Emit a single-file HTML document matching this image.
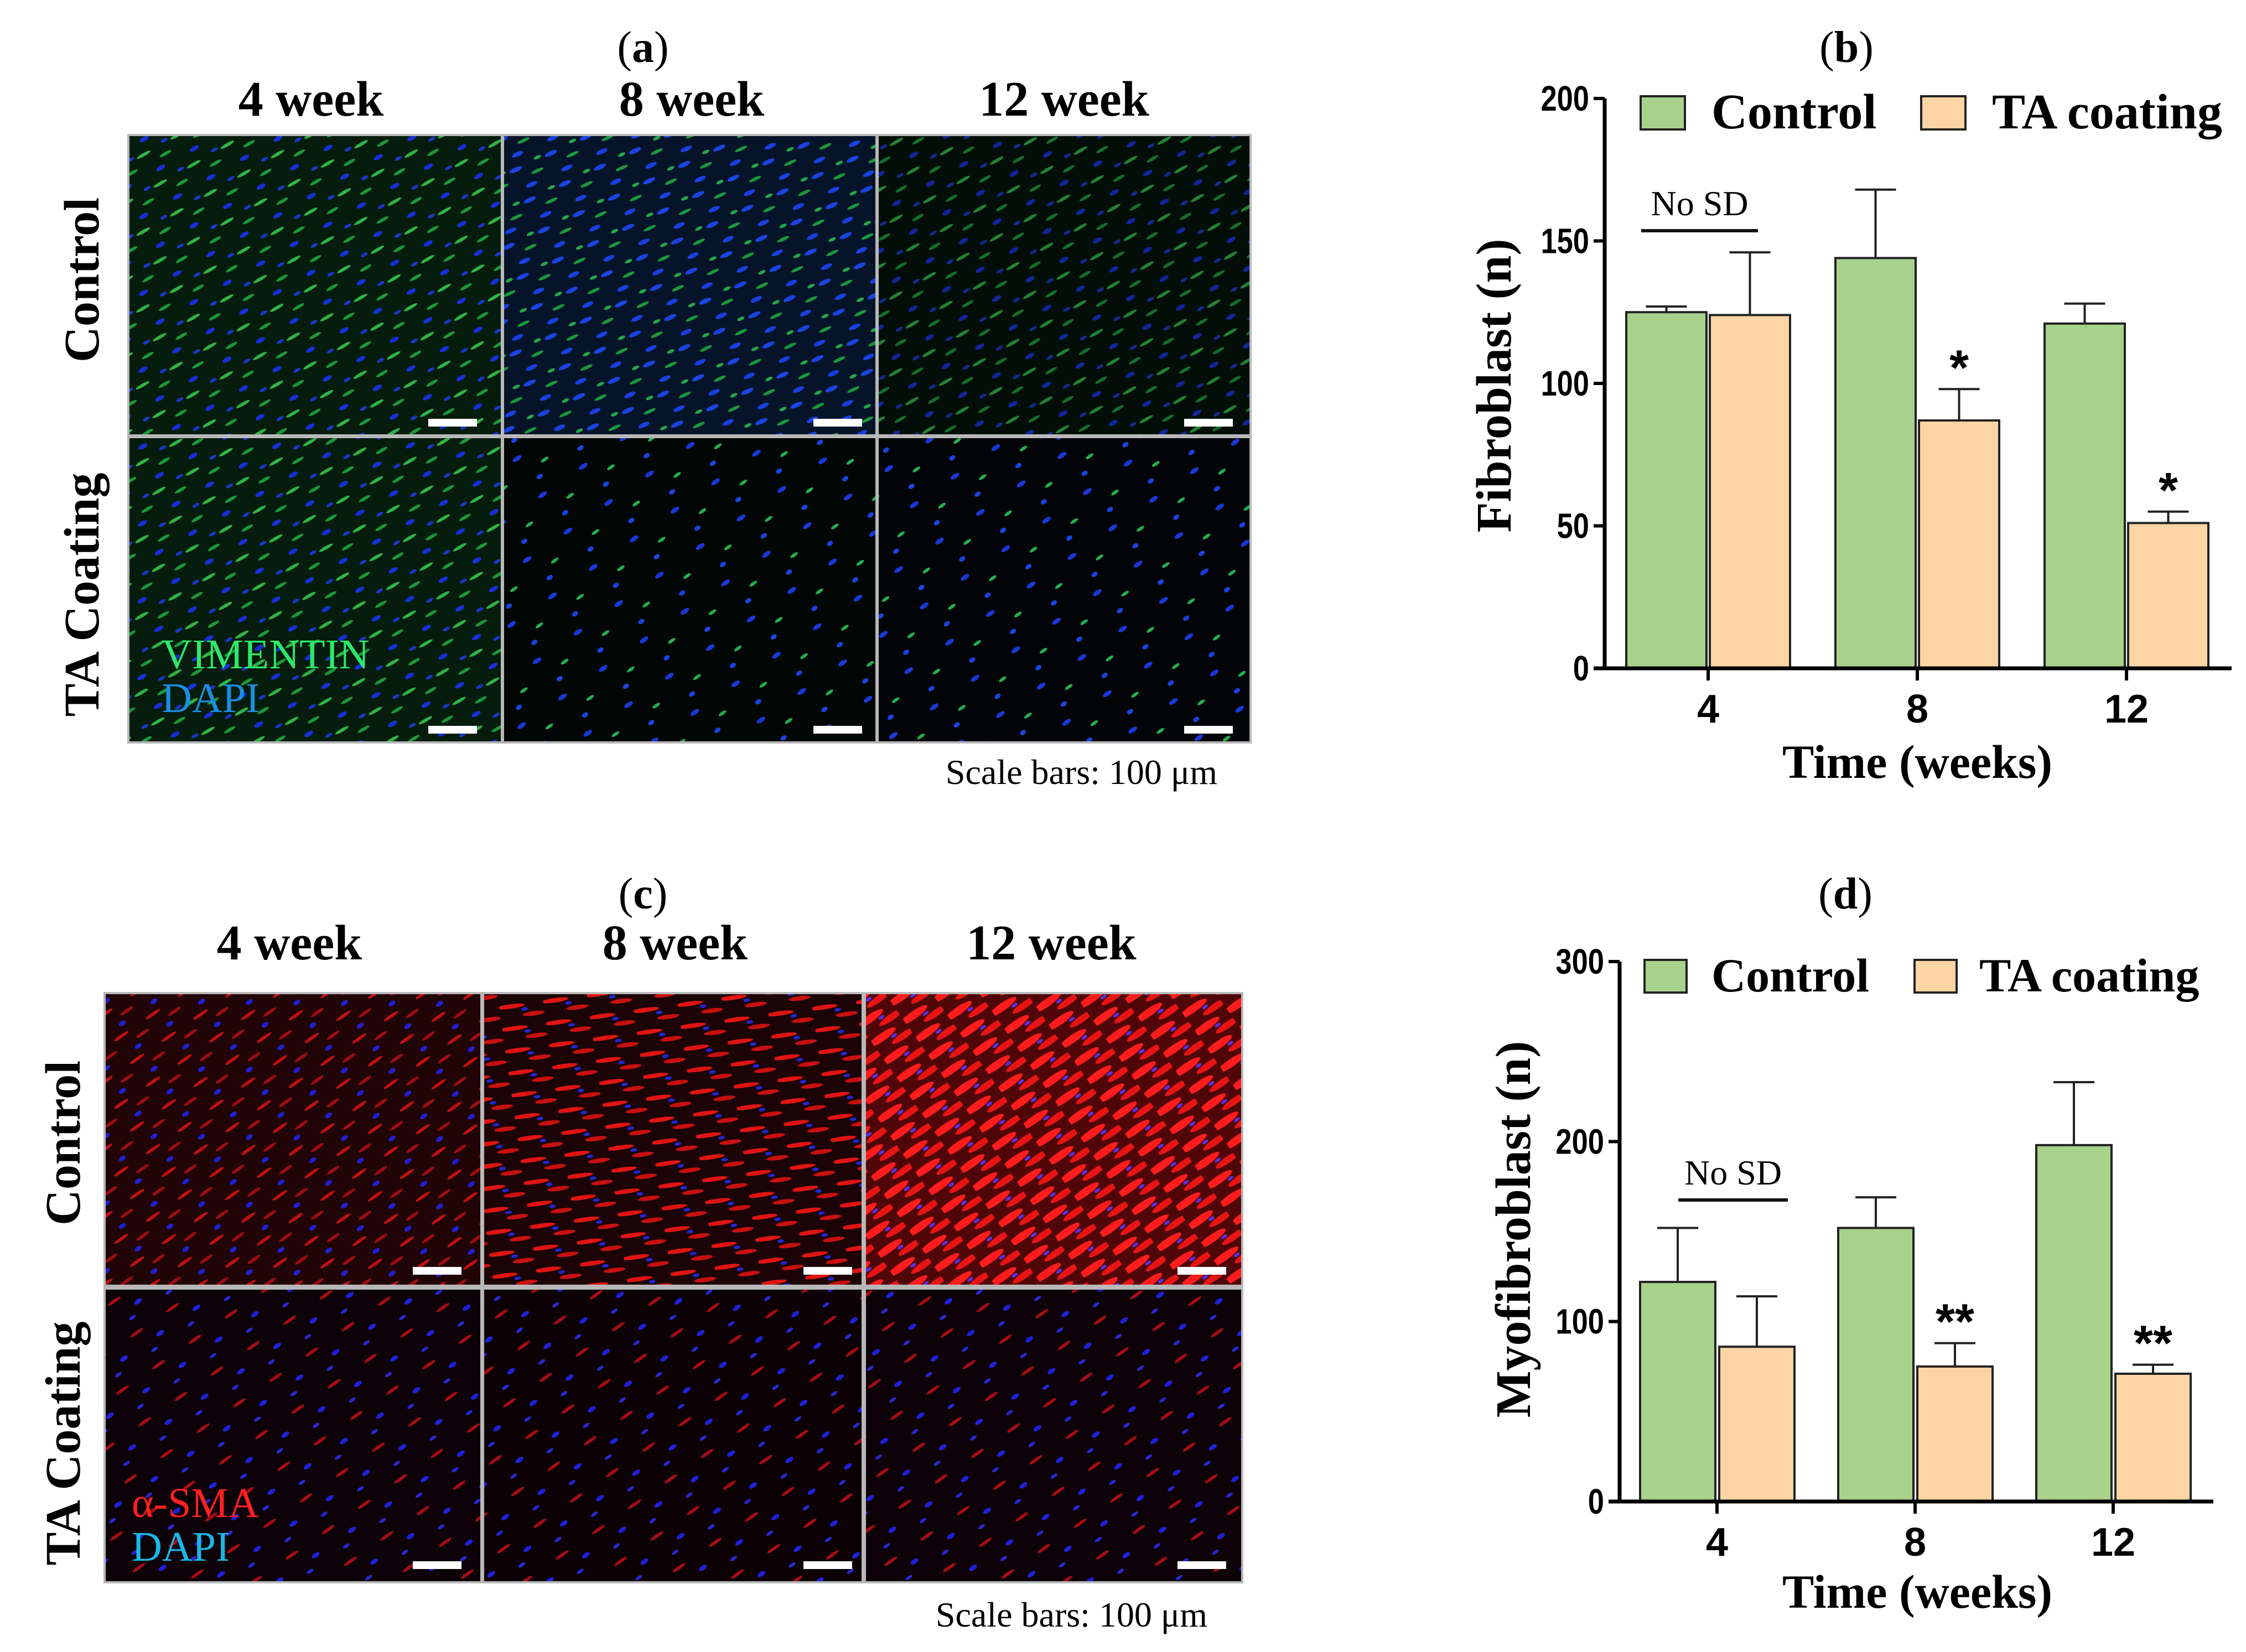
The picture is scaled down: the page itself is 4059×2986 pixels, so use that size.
<!DOCTYPE html>
<html><head><meta charset="utf-8">
<style>
html,body{margin:0;padding:0;background:#fff;}
svg{display:block;}
.serif{font-family:"Liberation Serif",serif;}
.sans{font-family:"Liberation Sans",sans-serif;}
</style></head>
<body>
<svg id="fig" width="4059" height="2986" viewBox="0 0 4059 2986" xmlns="http://www.w3.org/2000/svg">
<defs>
  <pattern id="pGreen" width="70" height="60" patternUnits="userSpaceOnUse" patternTransform="rotate(-30)">
    <ellipse cx="15" cy="12" rx="14" ry="3" fill="#2fb548"/>
    <ellipse cx="50" cy="30" rx="12" ry="3" fill="#1a9a3a"/>
    <ellipse cx="30" cy="48" rx="9" ry="4" fill="#1530d8"/>
    <ellipse cx="60" cy="8" rx="7" ry="3" fill="#1838c8"/>
  </pattern>
  <pattern id="pGreenBlue" width="70" height="60" patternUnits="userSpaceOnUse" patternTransform="rotate(-25)">
    <ellipse cx="15" cy="12" rx="12" ry="4" fill="#1a44e0"/>
    <ellipse cx="50" cy="30" rx="12" ry="3" fill="#1a9a3a"/>
    <ellipse cx="30" cy="48" rx="11" ry="4" fill="#1840e0"/>
    <ellipse cx="60" cy="8" rx="7" ry="3" fill="#24a84a"/>
  </pattern>
  <pattern id="pSparse" width="90" height="80" patternUnits="userSpaceOnUse" patternTransform="rotate(-35)">
    <ellipse cx="20" cy="15" rx="9" ry="4" fill="#1838d8"/>
    <ellipse cx="60" cy="45" rx="8" ry="3" fill="#22b050"/>
    <ellipse cx="35" cy="65" rx="6" ry="4" fill="#1a44e0"/>
  </pattern>
  <pattern id="pRed" width="70" height="50" patternUnits="userSpaceOnUse" patternTransform="rotate(-35)">
    <ellipse cx="15" cy="10" rx="16" ry="3" fill="#c01010"/>
    <ellipse cx="50" cy="28" rx="14" ry="3" fill="#a00c10"/>
    <ellipse cx="30" cy="42" rx="7" ry="4" fill="#2020d0"/>
  </pattern>
  <pattern id="pRedDense" width="70" height="40" patternUnits="userSpaceOnUse" patternTransform="rotate(-35)">
    <ellipse cx="20" cy="10" rx="30" ry="7" fill="#ff1c1c"/>
    <ellipse cx="55" cy="30" rx="26" ry="6" fill="#e81414"/>
    <ellipse cx="40" cy="20" rx="6" ry="3" fill="#5a30e0"/>
  </pattern>
  <pattern id="pRedHoriz" width="80" height="40" patternUnits="userSpaceOnUse" patternTransform="rotate(-8)">
    <ellipse cx="20" cy="10" rx="26" ry="4" fill="#e01414"/>
    <ellipse cx="60" cy="28" rx="20" ry="4" fill="#c81010"/>
    <ellipse cx="45" cy="18" rx="6" ry="3" fill="#2424d8"/>
  </pattern>
  <pattern id="pRedSparse" width="80" height="70" patternUnits="userSpaceOnUse" patternTransform="rotate(-35)">
    <ellipse cx="20" cy="15" rx="14" ry="3" fill="#a80c14"/>
    <ellipse cx="55" cy="40" rx="8" ry="4" fill="#2020d8"/>
    <ellipse cx="30" cy="58" rx="7" ry="3" fill="#2828d0"/>
  </pattern>
</defs>

<!-- Panel (a) -->
<g>
  <text class="serif" x="1162" y="112" font-size="80" text-anchor="middle">(<tspan font-weight="bold">a</tspan>)</text>
  <text class="serif" x="562" y="209" font-size="90" font-weight="bold" text-anchor="middle">4 week</text>
  <text class="serif" x="1250" y="209" font-size="90" font-weight="bold" text-anchor="middle">8 week</text>
  <text class="serif" x="1923" y="209" font-size="90" font-weight="bold" text-anchor="middle">12 week</text>
  <text class="serif" transform="translate(178,506) rotate(-90)" font-size="90" font-weight="bold" text-anchor="middle">Control</text>
  <text class="serif" transform="translate(178,1075) rotate(-90)" font-size="90" font-weight="bold" text-anchor="middle">TA Coating</text>
  <rect x="230" y="242" width="2032" height="1102" fill="#b8b8b8"/>
  <g><rect x="234" y="246" width="671" height="539" fill="#061c0c"/><rect x="234" y="246" width="671" height="539" fill="url(#pGreen)"/></g>
  <g><rect x="911" y="246" width="671" height="539" fill="#06142a"/><rect x="911" y="246" width="671" height="539" fill="url(#pGreenBlue)"/></g>
  <g><rect x="1588" y="246" width="670" height="539" fill="#040e08"/><rect x="1588" y="246" width="670" height="539" fill="url(#pGreen)" opacity="0.7"/></g>
  <g><rect x="234" y="792" width="671" height="548" fill="#061c0c"/><rect x="234" y="792" width="671" height="548" fill="url(#pGreen)"/></g>
  <g><rect x="911" y="792" width="671" height="548" fill="#020604"/><rect x="911" y="792" width="671" height="548" fill="url(#pSparse)"/></g>
  <g><rect x="1588" y="792" width="670" height="548" fill="#020408"/><rect x="1588" y="792" width="670" height="548" fill="url(#pSparse)"/></g>
  <g fill="#fff">
    <rect x="774" y="757" width="88" height="14"/><rect x="1470" y="757" width="88" height="14"/><rect x="2140" y="757" width="88" height="14"/>
    <rect x="774" y="1312" width="88" height="14"/><rect x="1470" y="1312" width="88" height="14"/><rect x="2140" y="1312" width="88" height="14"/>
  </g>
  <text class="serif" x="292" y="1208" font-size="76" fill="#2ee86a">VIMENTIN</text>
  <text class="serif" x="292" y="1287" font-size="76" fill="#1a8fe0">DAPI</text>
  <text class="serif" x="2200" y="1417" font-size="64" text-anchor="end">Scale bars: 100 μm</text>
</g>

<!-- Panel (c) -->
<g>
  <text class="serif" x="1162" y="1642" font-size="80" text-anchor="middle">(<tspan font-weight="bold">c</tspan>)</text>
  <text class="serif" x="523" y="1734" font-size="90" font-weight="bold" text-anchor="middle">4 week</text>
  <text class="serif" x="1220" y="1734" font-size="90" font-weight="bold" text-anchor="middle">8 week</text>
  <text class="serif" x="1900" y="1734" font-size="90" font-weight="bold" text-anchor="middle">12 week</text>
  <text class="serif" transform="translate(144,2066) rotate(-90)" font-size="90" font-weight="bold" text-anchor="middle">Control</text>
  <text class="serif" transform="translate(144,2609) rotate(-90)" font-size="90" font-weight="bold" text-anchor="middle">TA Coating</text>
  <rect x="187" y="1793" width="2060" height="1069" fill="#b8b8b8"/>
  <g><rect x="191" y="1797" width="677" height="525" fill="#200406"/><rect x="191" y="1797" width="677" height="525" fill="url(#pRed)"/></g>
  <g><rect x="875" y="1797" width="682" height="525" fill="#1c0306"/><rect x="875" y="1797" width="682" height="525" fill="url(#pRedHoriz)"/></g>
  <g><rect x="1565" y="1797" width="678" height="525" fill="#500608"/><rect x="1565" y="1797" width="678" height="525" fill="url(#pRedDense)"/></g>
  <g><rect x="191" y="2331" width="677" height="527" fill="#0c0208"/><rect x="191" y="2331" width="677" height="527" fill="url(#pRedSparse)"/></g>
  <g><rect x="875" y="2331" width="682" height="527" fill="#0c0206"/><rect x="875" y="2331" width="682" height="527" fill="url(#pRedSparse)"/></g>
  <g><rect x="1565" y="2331" width="678" height="527" fill="#0c0208"/><rect x="1565" y="2331" width="678" height="527" fill="url(#pRedSparse)"/></g>
  <g fill="#fff">
    <rect x="746" y="2290" width="88" height="14"/><rect x="1452" y="2290" width="88" height="14"/><rect x="2128" y="2290" width="88" height="14"/>
    <rect x="746" y="2822" width="88" height="14"/><rect x="1452" y="2822" width="88" height="14"/><rect x="2128" y="2822" width="88" height="14"/>
  </g>
  <text class="serif" x="238" y="2742" font-size="76" fill="#ff2020">α-SMA</text>
  <text class="serif" x="238" y="2821" font-size="76" fill="#18b8e8">DAPI</text>
  <text class="serif" x="2182" y="2940" font-size="64" text-anchor="end">Scale bars: 100 μm</text>
</g>

<g id="chartB"></g>
<g id="chartD"></g>
</svg>

<script>
const weekLabels = ['4','8','12'];
const fibroControl = [125, 144, 121];
const fibroControlSD = [2, 24, 7];
const fibroTA = [124, 87, 51];
const fibroTASD = [22, 11, 4];
const fibroStars = ['', '*', '*'];
const fibroTicks = [0, 50, 100, 150, 200];
const myoControl = [122, 152, 198];
const myoControlSD = [30, 17, 35];
const myoTA = [86, 75, 71];
const myoTASD = [28, 13, 5];
const myoStars = ['', '**', '**'];
const myoTicks = [0, 100, 200, 300];

const NS = 'http://www.w3.org/2000/svg';
function mk(parent, tag, attrs, text) {
  const e = document.createElementNS(NS, tag);
  for (const k in attrs) e.setAttribute(k, attrs[k]);
  if (text !== undefined) e.textContent = text;
  parent.appendChild(e);
  return e;
}

function drawChart(g, cfg) {
  const yS = v => cfg.yBot - (v / cfg.yMax) * (cfg.yBot - cfg.yTop);
  const xS = i => cfg.c0 + i * cfg.step;

  const lab = mk(g, 'text', {x: cfg.labelX, y: cfg.labelY, 'font-size': 80, 'text-anchor': 'middle', 'font-family': 'Liberation Serif, serif'});
  
  
  lab.innerHTML = '(<tspan font-weight="bold">' + cfg.letter + '</tspan>)';

  const series = [
    {vals: cfg.ctrl, sd: cfg.ctrlSD, fill: '#a8d18c', off: -cfg.bw - cfg.gapL, name: 'control'},
    {vals: cfg.ta, sd: cfg.taSD, fill: '#fdd5a5', off: cfg.gapR, name: 'ta-coating'}
  ];
  series.forEach(s => {
    s.vals.forEach((v, i) => {
      const x = xS(i) + s.off;
      const top = yS(v);
      const cx = x + cfg.bw / 2;
      const eTop = yS(v + s.sd[i]);
      const el = mk(g, 'line', {x1: cx, x2: cx, y1: top, y2: eTop, stroke: '#222', 'stroke-width': 4});
      
      
      const cap = mk(g, 'line', {x1: cx - 37, x2: cx + 37, y1: eTop, y2: eTop, stroke: '#222', 'stroke-width': 4});
      
      
      const r = mk(g, 'rect', {x: x, y: top, width: cfg.bw, height: cfg.yBot - top, fill: s.fill, stroke: '#222', 'stroke-width': 4});
      
      
    });
  });

  cfg.stars.forEach((st, i) => {
    if (!st) return;
    const cx = xS(i) + cfg.gapR + cfg.bw / 2;
    const y = yS(cfg.ta[i] + cfg.taSD[i]);
    const t = mk(g, 'text', {x: cx, y: y - 8 + cfg.starDy, 'font-size': 90, 'font-weight': 'bold', 'text-anchor': 'middle', 'font-family': 'Liberation Sans, sans-serif'}, st);
    
    
  });

  const nl = mk(g, 'line', {x1: cfg.noSD.x1, x2: cfg.noSD.x2, y1: cfg.noSD.y, y2: cfg.noSD.y, stroke: '#111', 'stroke-width': 6});
  
  
  const nt = mk(g, 'text', {x: (cfg.noSD.x1 + cfg.noSD.x2) / 2, y: cfg.noSD.y - 28, 'font-size': 64, 'text-anchor': 'middle', 'font-family': 'Liberation Serif, serif'}, 'No SD');
  
  

  const ya = mk(g, 'line', {x1: cfg.x0, x2: cfg.x0, y1: cfg.yTop, y2: cfg.yBot + 3, stroke: '#000', 'stroke-width': 7});
  
  
  const xa = mk(g, 'line', {x1: cfg.x0 - 20, x2: cfg.xEnd, y1: cfg.yBot, y2: cfg.yBot, stroke: '#000', 'stroke-width': 7});
  
  
  cfg.ticks.forEach(v => {
    const y = yS(v);
    const tl = mk(g, 'line', {x1: cfg.x0 - 20, x2: cfg.x0, y1: y, y2: y, stroke: '#000', 'stroke-width': 6});
    
    
    const tx = cfg.x0 - 28;
    const tt = mk(g, 'text', {x: tx, y: y + 22, 'font-size': 64, 'font-weight': 'bold', 'text-anchor': 'end', 'font-family': 'Liberation Sans, sans-serif', transform: 'translate(' + tx + ',0) scale(0.82,1) translate(' + (-tx) + ',0)'}, String(v));
    
    
  });
  weekLabels.forEach((w, i) => {
    const x = xS(i);
    const tl = mk(g, 'line', {x1: x, x2: x, y1: cfg.yBot, y2: cfg.yBot + 22, stroke: '#000', 'stroke-width': 6});
    
    
    const tt = mk(g, 'text', {x: x, y: cfg.yBot + 98, 'font-size': 72, 'font-weight': 'bold', 'text-anchor': 'middle', 'font-family': 'Liberation Sans, sans-serif'}, w);
    
    
  });

  const xt = mk(g, 'text', {x: cfg.xTitleX, y: cfg.yBot + cfg.xTitleDy, 'font-size': 86, 'font-weight': 'bold', 'text-anchor': 'middle', 'font-family': 'Liberation Serif, serif', 'xml:space': 'preserve'}, 'Time  (weeks)');
  
  
  const yt = mk(g, 'text', {transform: 'translate(' + cfg.yTitleX + ',' + cfg.yTitleY + ') rotate(-90)', 'font-size': 90, 'font-weight': 'bold', 'text-anchor': 'middle', 'font-family': 'Liberation Serif, serif'}, cfg.yTitle);
  
  

  const l1 = mk(g, 'rect', {x: cfg.leg.b1x, y: cfg.leg.y, width: cfg.leg.w, height: cfg.leg.h, fill: '#a8d18c', stroke: '#222', 'stroke-width': 4});
  
  
  const t1 = mk(g, 'text', {x: cfg.leg.t1x, y: cfg.leg.y + cfg.leg.h - 2, 'font-size': cfg.leg.fs, 'font-weight': 'bold', 'font-family': 'Liberation Serif, serif'}, 'Control');
  
  
  const l2 = mk(g, 'rect', {x: cfg.leg.b2x, y: cfg.leg.y, width: cfg.leg.w, height: cfg.leg.h, fill: '#fdd5a5', stroke: '#222', 'stroke-width': 4});
  
  
  const t2 = mk(g, 'text', {x: cfg.leg.t2x, y: cfg.leg.y + cfg.leg.h - 2, 'font-size': cfg.leg.fs, 'font-weight': 'bold', 'font-family': 'Liberation Serif, serif'}, 'TA coating');
  
  
}

drawChart(document.getElementById('chartB'), {
  letter: 'b', labelX: 3337, labelY: 112,
  x0: 2900, xEnd: 4033, yTop: 178, yBot: 1208, yMax: 200,
  c0: 3087, step: 378, bw: 145, gapL: 3, gapR: 3,
  ctrl: fibroControl, ctrlSD: fibroControlSD, ta: fibroTA, taSD: fibroTASD,
  stars: fibroStars, starDy: 0, ticks: fibroTicks,
  noSD: {x1: 2966, x2: 3177, y: 417},
  xTitleX: 3465, xTitleDy: 198, yTitleX: 2730, yTitleY: 697, yTitle: 'Fibroblast (n)',
  leg: {b1x: 2965, b2x: 3472, t1x: 3093, t2x: 3600, y: 174, w: 80, h: 60, fs: 90}
});
drawChart(document.getElementById('chartD'), {
  letter: 'd', labelX: 3335, labelY: 1642,
  x0: 2927, xEnd: 4000, yTop: 1738, yBot: 2714, yMax: 300,
  c0: 3103, step: 358, bw: 136, gapL: 3, gapR: 4,
  ctrl: myoControl, ctrlSD: myoControlSD, ta: myoTA, taSD: myoTASD,
  stars: myoStars, starDy: 0, ticks: myoTicks,
  noSD: {x1: 3033, x2: 3231, y: 2169},
  xTitleX: 3465, xTitleDy: 192, yTitleX: 2765, yTitleY: 2222, yTitle: 'Myofibroblast (n)',
  leg: {b1x: 2972, b2x: 3460, t1x: 3093, t2x: 3577, y: 1735, w: 76, h: 59, fs: 86}
});
</script>
</body></html>
